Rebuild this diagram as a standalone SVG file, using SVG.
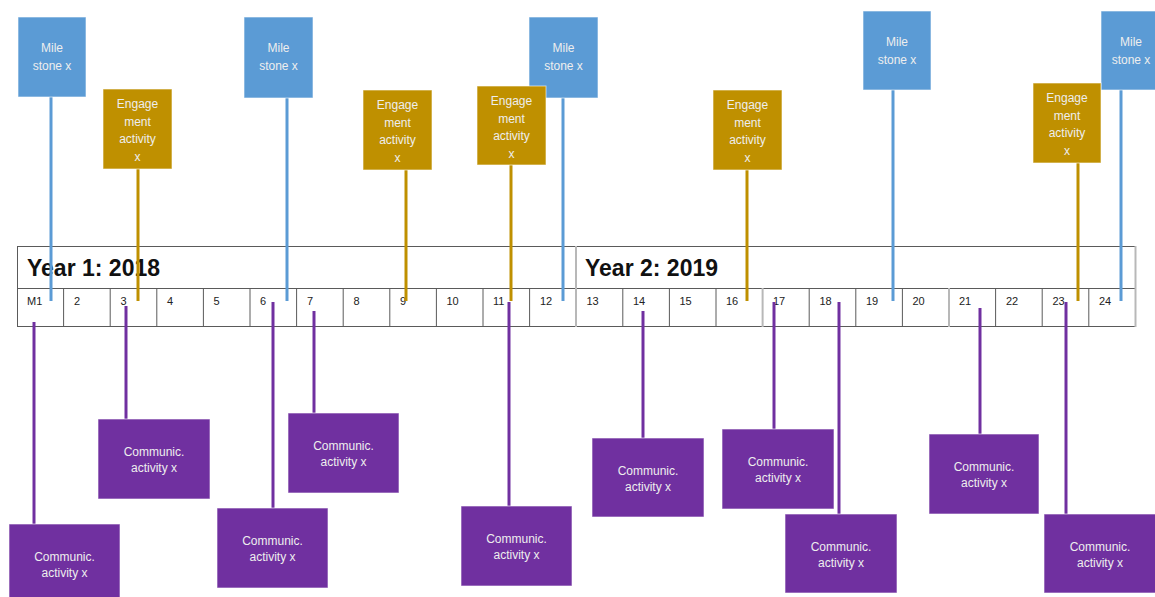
<svg xmlns="http://www.w3.org/2000/svg" width="1155" height="597" viewBox="0 0 1155 597">
<style>
.ms{fill:#5B9BD5;stroke:#ffffff;stroke-opacity:.6;stroke-width:1}
.en{fill:#BF9000;stroke:#ffffff;stroke-opacity:.6;stroke-width:1}
.co{fill:#7030A0;stroke:#ffffff;stroke-opacity:.6;stroke-width:1}
.bt{font-family:"Liberation Sans",Arial,sans-serif;font-size:12px;fill:#EEEEEE;text-anchor:middle}
.yr{font-family:"Liberation Sans",Arial,sans-serif;font-size:23px;font-weight:bold;fill:#111}
.mn{font-family:"Liberation Sans",Arial,sans-serif;font-size:11px;fill:#222}
.grid{stroke:#5a5a5a;stroke-width:1;fill:none}
.lb{stroke:#5B9BD5;stroke-width:3}
.lg{stroke:#BF9000;stroke-width:3}
.lp{stroke:#7030A0;stroke-width:3}
</style>
<rect width="1155" height="597" fill="#ffffff"/>
<g id="timeline">
<rect class="grid" x="17.5" y="246.5" width="1118" height="80" fill="#fff"/>
<line class="grid" x1="17.5" y1="288.5" x2="1135.5" y2="288.5"/>
<g class="grid">
<line x1="63.6" y1="288" x2="63.6" y2="326"/>
<line x1="110.2" y1="288" x2="110.2" y2="326"/>
<line x1="156.8" y1="288" x2="156.8" y2="326"/>
<line x1="203.4" y1="288" x2="203.4" y2="326"/>
<line x1="250" y1="288" x2="250" y2="326"/>
<line x1="296.6" y1="288" x2="296.6" y2="326"/>
<line x1="343.2" y1="288" x2="343.2" y2="326"/>
<line x1="389.8" y1="288" x2="389.8" y2="326"/>
<line x1="436.4" y1="288" x2="436.4" y2="326"/>
<line x1="483" y1="288" x2="483" y2="326"/>
<line x1="529.6" y1="288" x2="529.6" y2="326"/>
<line x1="622.8" y1="288" x2="622.8" y2="326"/>
<line x1="669.4" y1="288" x2="669.4" y2="326"/>
<line x1="716" y1="288" x2="716" y2="326"/>
<line x1="809.2" y1="288" x2="809.2" y2="326"/>
<line x1="855.8" y1="288" x2="855.8" y2="326"/>
<line x1="902.4" y1="288" x2="902.4" y2="326"/>
<line x1="995.6" y1="288" x2="995.6" y2="326"/>
<line x1="1042.2" y1="288" x2="1042.2" y2="326"/>
<line x1="1088.8" y1="288" x2="1088.8" y2="326"/>
</g>
<line x1="576" y1="246" x2="576" y2="327" stroke="#b8b8b8" stroke-width="2"/>
<line x1="762.6" y1="288" x2="762.6" y2="327" stroke="#b8b8b8" stroke-width="2"/>
<line x1="949" y1="288" x2="949" y2="327" stroke="#b8b8b8" stroke-width="2"/>
<line x1="1135.5" y1="246" x2="1135.5" y2="327" stroke="#b8b8b8" stroke-width="2"/>
<text class="yr" x="27" y="276">Year 1: 2018</text>
<text class="yr" x="585" y="276">Year 2: 2019</text>
<g class="mn">
<text x="27" y="305">M1</text>
<text x="74" y="305">2</text>
<text x="120.5" y="305">3</text>
<text x="167" y="305">4</text>
<text x="213.5" y="305">5</text>
<text x="260" y="305">6</text>
<text x="307" y="305">7</text>
<text x="353.5" y="305">8</text>
<text x="400" y="305">9</text>
<text x="446.5" y="305">10</text>
<text x="493" y="305">11</text>
<text x="540" y="305">12</text>
<text x="586.5" y="305">13</text>
<text x="633" y="305">14</text>
<text x="679.5" y="305">15</text>
<text x="726" y="305">16</text>
<text x="773" y="305">17</text>
<text x="819.5" y="305">18</text>
<text x="866" y="305">19</text>
<text x="912.5" y="305">20</text>
<text x="959" y="305">21</text>
<text x="1006" y="305">22</text>
<text x="1052.5" y="305">23</text>
<text x="1099" y="305">24</text>
</g>
</g>
<g id="connectors">
<line class="lb" x1="51" y1="97" x2="51" y2="301"/>
<line class="lb" x1="287" y1="98" x2="287" y2="301"/>
<line class="lb" x1="563" y1="98" x2="563" y2="301"/>
<line class="lb" x1="893" y1="90" x2="893" y2="301"/>
<line class="lb" x1="1121" y1="90" x2="1121" y2="301"/>
<line class="lg" x1="138" y1="169" x2="138" y2="301"/>
<line class="lg" x1="406" y1="170" x2="406" y2="301"/>
<line class="lg" x1="511" y1="165" x2="511" y2="301"/>
<line class="lg" x1="747" y1="170" x2="747" y2="301"/>
<line class="lg" x1="1078" y1="163" x2="1078" y2="301"/>
<line class="lp" x1="34" y1="322" x2="34" y2="524"/>
<line class="lp" x1="126" y1="306" x2="126" y2="419"/>
<line class="lp" x1="273" y1="302" x2="273" y2="508"/>
<line class="lp" x1="314" y1="311" x2="314" y2="413"/>
<line class="lp" x1="509" y1="302" x2="509" y2="506"/>
<line class="lp" x1="643" y1="311" x2="643" y2="438"/>
<line class="lp" x1="774" y1="302" x2="774" y2="429"/>
<line class="lp" x1="839" y1="302" x2="839" y2="514"/>
<line class="lp" x1="980" y1="308" x2="980" y2="434"/>
<line class="lp" x1="1066" y1="302" x2="1066" y2="514"/>
</g>
<g id="milestone1"><rect class="ms" x="18" y="17" width="68" height="80"/><text class="bt" x="52" y="52">Mile</text><text class="bt" x="52" y="70">stone x</text></g>
<g id="milestone2"><rect class="ms" x="244" y="17" width="69" height="81"/><text class="bt" x="278.5" y="52">Mile</text><text class="bt" x="278.5" y="70">stone x</text></g>
<g id="milestone3"><rect class="ms" x="529" y="17" width="69" height="81"/><text class="bt" x="563.5" y="52">Mile</text><text class="bt" x="563.5" y="70">stone x</text></g>
<g id="milestone4"><rect class="ms" x="863" y="11" width="68" height="79"/><text class="bt" x="897" y="46">Mile</text><text class="bt" x="897" y="64">stone x</text></g>
<g id="milestone5"><rect class="ms" x="1101" y="11" width="62" height="79"/><text class="bt" x="1131" y="46">Mile</text><text class="bt" x="1131" y="64">stone x</text></g>
<g id="engage1"><rect class="en" x="103" y="89" width="69" height="80"/><text class="bt" x="137.5" y="108">Engage</text><text class="bt" x="137.5" y="125.5">ment</text><text class="bt" x="137.5" y="143">activity</text><text class="bt" x="137.5" y="160.5">x</text></g>
<g id="engage2"><rect class="en" x="363" y="90" width="69" height="80"/><text class="bt" x="397.5" y="109">Engage</text><text class="bt" x="397.5" y="126.5">ment</text><text class="bt" x="397.5" y="144">activity</text><text class="bt" x="397.5" y="161.5">x</text></g>
<g id="engage3"><rect class="en" x="477" y="86" width="69" height="79"/><text class="bt" x="511.5" y="105">Engage</text><text class="bt" x="511.5" y="122.5">ment</text><text class="bt" x="511.5" y="140">activity</text><text class="bt" x="511.5" y="157.5">x</text></g>
<g id="engage4"><rect class="en" x="713" y="90" width="69" height="80"/><text class="bt" x="747.5" y="109">Engage</text><text class="bt" x="747.5" y="126.5">ment</text><text class="bt" x="747.5" y="144">activity</text><text class="bt" x="747.5" y="161.5">x</text></g>
<g id="engage5"><rect class="en" x="1033" y="83" width="68" height="80"/><text class="bt" x="1067" y="102">Engage</text><text class="bt" x="1067" y="119.5">ment</text><text class="bt" x="1067" y="137">activity</text><text class="bt" x="1067" y="154.5">x</text></g>
<g id="comm1"><rect class="co" x="9" y="524" width="111" height="80"/><text class="bt" x="64.5" y="561">Communic.</text><text class="bt" x="64.5" y="577">activity x</text></g>
<g id="comm2"><rect class="co" x="98" y="419" width="112" height="80"/><text class="bt" x="154" y="456">Communic.</text><text class="bt" x="154" y="472">activity x</text></g>
<g id="comm3"><rect class="co" x="217" y="508" width="111" height="80"/><text class="bt" x="272.5" y="545">Communic.</text><text class="bt" x="272.5" y="561">activity x</text></g>
<g id="comm4"><rect class="co" x="288" y="413" width="111" height="80"/><text class="bt" x="343.5" y="450">Communic.</text><text class="bt" x="343.5" y="466">activity x</text></g>
<g id="comm5"><rect class="co" x="461" y="506" width="111" height="80"/><text class="bt" x="516.5" y="543">Communic.</text><text class="bt" x="516.5" y="559">activity x</text></g>
<g id="comm6"><rect class="co" x="592" y="438" width="112" height="79"/><text class="bt" x="648" y="475">Communic.</text><text class="bt" x="648" y="491">activity x</text></g>
<g id="comm7"><rect class="co" x="722" y="429" width="112" height="80"/><text class="bt" x="778" y="466">Communic.</text><text class="bt" x="778" y="482">activity x</text></g>
<g id="comm8"><rect class="co" x="785" y="514" width="112" height="79"/><text class="bt" x="841" y="551">Communic.</text><text class="bt" x="841" y="567">activity x</text></g>
<g id="comm9"><rect class="co" x="929" y="434" width="110" height="80"/><text class="bt" x="984" y="471">Communic.</text><text class="bt" x="984" y="487">activity x</text></g>
<g id="comm10"><rect class="co" x="1044" y="514" width="112" height="79"/><text class="bt" x="1100" y="551">Communic.</text><text class="bt" x="1100" y="567">activity x</text></g>
</svg>
